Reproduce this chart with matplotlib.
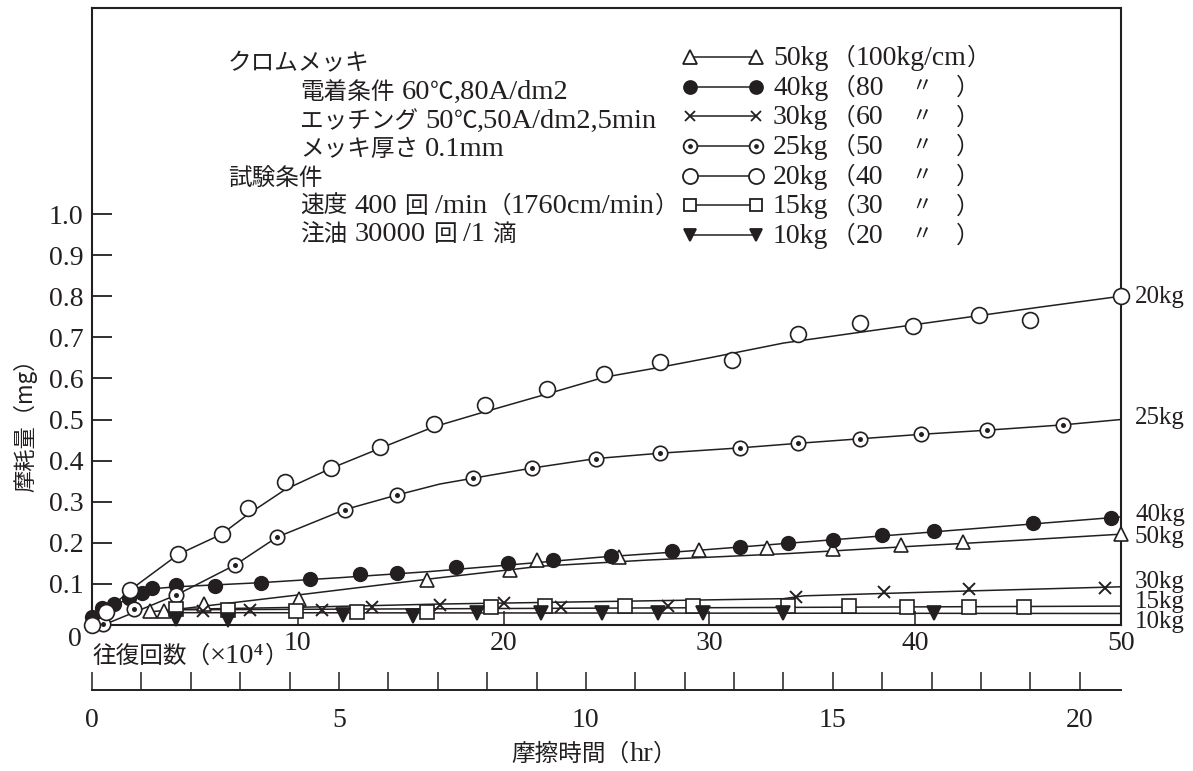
import matplotlib
matplotlib.use("Agg")
import matplotlib.pyplot as plt
from matplotlib.lines import Line2D
from matplotlib.ticker import MultipleLocator

LATIN = ['Liberation Serif', 'Noto Sans CJK JP', 'DejaVu Serif']
CJK = ['Noto Sans CJK JP', 'Liberation Serif', 'DejaVu Serif']
plt.rcParams['font.family'] = LATIN

INK = '#231f20'
W, H = 1193, 771

# ---- measured wear (mg) vs. reciprocating cycles (x10^4) ----
c50 = [2.8, 3.5, 5.44, 10.06, 16.3, 20.3, 21.6, 25.6, 29.5, 32.8, 36.0, 39.3, 42.3, 50.0]
w50 = [0.034, 0.034, 0.051, 0.063, 0.110, 0.134, 0.158, 0.165, 0.183, 0.187, 0.185, 0.195, 0.202, 0.221]

c40 = [0.0, 0.5, 1.07, 1.8, 2.43, 2.9, 4.1, 6.0, 8.2, 10.6, 13.0, 14.8, 17.7, 20.2, 22.4,
       25.2, 28.2, 31.5, 33.8, 36.0, 38.4, 40.9, 45.7, 49.5]
w40 = [0.020, 0.041, 0.052, 0.065, 0.078, 0.090, 0.097, 0.095, 0.103, 0.111, 0.123, 0.127, 0.142, 0.150, 0.157,
       0.168, 0.180, 0.190, 0.200, 0.207, 0.219, 0.229, 0.248, 0.260]

c30 = [5.4, 7.7, 11.2, 13.6, 16.9, 20.0, 22.8, 28.0, 34.2, 38.5, 42.6, 49.2]
w30 = [0.034, 0.036, 0.036, 0.044, 0.048, 0.053, 0.045, 0.046, 0.068, 0.081, 0.087, 0.090]

c25 = [0.55, 2.04, 4.1, 6.95, 9.0, 12.3, 14.8, 18.5, 21.4, 24.5, 27.6, 31.5, 34.3, 37.3, 40.3, 43.5, 47.2]
w25 = [0.002, 0.038, 0.073, 0.146, 0.214, 0.281, 0.316, 0.357, 0.382, 0.405, 0.418, 0.431, 0.442, 0.453,
       0.464, 0.474, 0.487]

c20 = [0.0, 0.68, 1.85, 4.2, 6.3, 7.6, 9.4, 11.6, 14.0, 16.6, 19.1, 22.1, 24.9, 27.6, 31.1, 34.3, 37.3,
       39.9, 43.1, 45.6, 50.0]
w20 = [0.000, 0.032, 0.085, 0.173, 0.221, 0.284, 0.348, 0.382, 0.433, 0.489, 0.535, 0.574, 0.610, 0.641,
       0.645, 0.708, 0.735, 0.727, 0.754, 0.742, 0.800]

c15 = [4.1, 6.6, 9.9, 12.9, 16.3, 19.4, 22.0, 25.9, 29.2, 33.8, 36.8, 39.6, 42.6, 45.3]
w15 = [0.039, 0.036, 0.034, 0.032, 0.032, 0.044, 0.046, 0.046, 0.046, 0.046, 0.046, 0.044, 0.044, 0.044]

c10 = [4.1, 6.6, 12.2, 15.6, 18.7, 21.8, 24.8, 27.5, 29.7, 33.6, 40.9]
w10 = [0.015, 0.012, 0.024, 0.022, 0.029, 0.029, 0.029, 0.028, 0.029, 0.029, 0.029]

# ---- hand-drawn trend curves ----
f50_c = [2.8, 4.1, 10.0, 16.9, 21.8, 27.0, 33.9, 40.0, 45.0, 50.0]
f50_w = [0.032, 0.038, 0.073, 0.115, 0.143, 0.158, 0.174, 0.192, 0.206, 0.221]

f40_c = [0.0, 1.0, 2.0, 2.9, 4.1, 8.2, 12.0, 16.4, 20.0, 24.7, 29.0, 33.6, 40.0, 45.0, 50.0]
f40_w = [0.020, 0.045, 0.070, 0.088, 0.093, 0.103, 0.115, 0.130, 0.145, 0.165, 0.180, 0.198, 0.223, 0.243, 0.263]

f30_c = [4.1, 10.0, 16.9, 24.7, 33.6, 34.6, 42.0, 50.0]
f30_w = [0.038, 0.043, 0.051, 0.057, 0.064, 0.071, 0.082, 0.093]

f25_c = [0.55, 4.1, 6.95, 9.0, 12.3, 14.8, 16.9, 18.5, 21.4, 24.5, 27.6, 31.5, 34.3, 37.3, 40.3, 43.5, 47.2, 50.0]
f25_w = [0.000, 0.073, 0.146, 0.214, 0.281, 0.316, 0.343, 0.357, 0.382, 0.405, 0.418, 0.431, 0.442, 0.453,
         0.464, 0.474, 0.487, 0.500]

f20_c = [0.0, 1.85, 4.2, 6.3, 7.6, 9.4, 11.6, 14.0, 16.6, 19.1, 22.1, 24.9, 27.6, 30.0, 33.6, 37.0, 40.0,
         43.0, 46.0, 50.0]
f20_w = [0.000, 0.085, 0.172, 0.221, 0.270, 0.330, 0.381, 0.430, 0.482, 0.519, 0.562, 0.603, 0.627, 0.650,
         0.686, 0.710, 0.731, 0.752, 0.773, 0.800]

f15_c = [4.1, 50.0]
f15_w = [0.037, 0.046]

f10_c = [4.1, 50.0]
f10_w = [0.030, 0.028]

loads = ['50kg', '40kg', '30kg', '25kg', '20kg', '15kg', '10kg']
pressures = ['100kg/cm', '80', '60', '50', '40', '30', '20']
end_labels = ['20kg', '25kg', '40kg', '50kg', '30kg', '15kg', '10kg']
end_label_y = [297, 418, 515, 537, 582, 602, 622]

y_ticks = [0.1, 0.2, 0.3, 0.4, 0.5, 0.6, 0.7, 0.8, 0.9, 1.0]
x_ticks = [10, 20, 30, 40, 50]
hr_ticks = [0, 5, 10, 15, 20]
CYCLES_PER_HOUR = 2.4   # 400 cycles/min -> 2.4 x10^4 cycles per hour

notes = [("クロムメッキ", 228, 62),
         ("電着条件 60℃,80A/dm2", 300, 91),
         ("エッチング 50℃,50A/dm2,5min", 300, 120),
         ("メッキ厚さ 0.1mm", 300, 148),
         ("試験条件", 228, 177),
         ("速度 400 回 /min（1760cm/min）", 300, 205),
         ("注油 30000 回 /1 滴", 300, 233)]


def fx(x):
    return x / W


def fy(y):
    return 1 - y / H


fig = plt.figure(figsize=(W / 100, H / 100), dpi=100)
renderer = fig.canvas.get_renderer()

LAT_SIZE = 20.5
CJK_SIZE = 17


def _runs(s):
    """Split a string into [kind, text] runs: 'sp', 'cjk' or 'lat'."""
    runs = []
    for ch in s:
        if ch == ' ':
            kind = 'sp'
        elif ord(ch) >= 0x2100:
            kind = 'cjk'
        else:
            kind = 'lat'
        if runs and runs[-1][0] == kind:
            runs[-1][1] += ch
        else:
            runs.append([kind, ch])
    return runs


def _advance(s, size, family, pad):
    t1 = fig.text(0.5, 0.5, pad + s + pad, fontsize=size, family=family)
    t2 = fig.text(0.5, 0.5, pad + pad, fontsize=size, family=family)
    w = t1.get_window_extent(renderer).width - t2.get_window_extent(renderer).width
    t1.remove()
    t2.remove()
    return w


def _layout(s, lat, cjk):
    """Pen offsets of each run of a mixed Latin/Japanese string."""
    x = 0.0
    items = []
    for kind, piece in _runs(s):
        if kind == 'sp':
            x += len(piece) * lat * 0.25 * 100 / 72
            continue
        size, fam, pad = (cjk, CJK, '口') if kind == 'cjk' else (lat, LATIN, 'I')
        items.append((x, piece, size, fam))
        x += _advance(piece, size, fam, pad)
    return items, x


def mixed_text(x, y, s, lat=LAT_SIZE, cjk=CJK_SIZE, ha='left'):
    """Latin runs in a serif face, Japanese runs in a CJK face, on one baseline."""
    items, total = _layout(s, lat, cjk)
    if ha == 'center':
        x -= total / 2
    base = y + 8
    for dx, piece, size, fam in items:
        fig.text(fx(x + dx), fy(base), piece, fontsize=size, family=fam,
                 ha='left', va='baseline', color=INK)


ax = fig.add_axes([fx(92), fy(625), (1121 - 92) / W, (625 - 8) / H])
ax.set_xlim(0, 50)
ax.set_ylim(0, (625 - 8) / 411)

for s in ax.spines.values():
    s.set_color(INK)
    s.set_linewidth(1.5)

ax.set_yticks(y_ticks)
ax.set_yticklabels([f"{v:.1f}" for v in y_ticks])
ax.set_xticks(x_ticks)
ax.set_xticklabels([str(v) for v in x_ticks])
ax.tick_params(axis='y', direction='in', length=14.5, width=1.3, color=INK,
               labelsize=20, pad=6, labelcolor=INK)
ax.tick_params(axis='x', direction='in', length=10, width=1.1, color=INK,
               labelsize=20, pad=4, labelcolor=INK)

styles = {
    '50kg': dict(marker='^', mfc='white', ms=10.4),
    '40kg': dict(marker='o', mfc=INK, ms=9.8),
    '30kg': dict(marker='x', mfc=INK, ms=8.0),
    '25kg': dict(marker='o', mfc='white', ms=10.4),
    '20kg': dict(marker='o', mfc='white', ms=11.4),
    '15kg': dict(marker='s', mfc='white', ms=9.4),
    '10kg': dict(marker='v', mfc=INK, ms=9.8),
}

curves = [(f50_c, f50_w), (f40_c, f40_w), (f30_c, f30_w), (f25_c, f25_w),
          (f20_c, f20_w), (f15_c, f15_w), (f10_c, f10_w)]
points = [(c50, w50), (c40, w40), (c30, w30), (c25, w25), (c20, w20), (c15, w15), (c10, w10)]

for (fc, fw) in curves:
    ax.plot(fc, fw, color=INK, lw=1.1, zorder=2, clip_on=False, solid_capstyle='butt')

for name, (pc, pw) in zip(loads, points):
    st = styles[name]
    ax.plot(pc, pw, ls='none', marker=st['marker'], ms=st['ms'], mfc=st['mfc'],
            mec=INK, mew=1.4 if name == '30kg' else 1.2, zorder=3, clip_on=False)
    if name == '25kg':
        ax.plot(pc, pw, ls='none', marker='o', ms=3.6, mfc=INK, mec=INK, mew=0,
                zorder=4, clip_on=False)

# shared origin label
fig.text(fx(75), fy(640), "0", fontsize=20, ha='center', va='center', color=INK)

# secondary scale: friction time in hours
sec = ax.secondary_xaxis(-(690 - 625) / 617,
                         functions=(lambda c: c / CYCLES_PER_HOUR, lambda h: h * CYCLES_PER_HOUR))
sec.set_xticks(hr_ticks)
sec.set_xticklabels([str(v) for v in hr_ticks])
sec.xaxis.set_minor_locator(MultipleLocator(1))
sec.tick_params(which='both', direction='in', length=13, width=1.1, color=INK,
                labelsize=20, pad=13, labelcolor=INK)
for s in sec.spines.values():
    s.set_color(INK)
    s.set_linewidth(1.4)

# axis titles
mixed_text(92, 655, "往復回数（×10⁴）")
mixed_text(594, 753, "摩擦時間（hr）", ha='center')
fig.text(fx(25), fy(420), "摩耗量（mg）", fontsize=16, family=CJK, ha='center', va='center',
         rotation=90, color=INK)

# conditions block
for txt, x, y in notes:
    mixed_text(x, y, txt)

# legend, one row per load
row_y = [57, 86.7, 116.3, 146, 175.7, 205.4, 235]
for name, pres, y in zip(loads, pressures, row_y):
    st = styles[name]
    fig.add_artist(Line2D([fx(690), fx(756)], [fy(y), fy(y)], transform=fig.transFigure,
                          color=INK, lw=1.1, marker=st['marker'], ms=st['ms'] * 0.95,
                          mfc=st['mfc'], mec=INK, mew=1.3))
    if name == '25kg':
        fig.add_artist(Line2D([fx(690), fx(756)], [fy(y), fy(y)], transform=fig.transFigure,
                              ls='none', marker='o', ms=3.4, mfc=INK, mec=INK, mew=0))
    mixed_text(773, y, name, lat=20)
    if name == '50kg':
        mixed_text(832, y, "（" + pres + "）", lat=20)
    else:
        mixed_text(832, y, "（" + pres, lat=20)
        fig.text(fx(922), fy(y), "〃", fontsize=15, family=CJK, ha='center', va='center', color=INK)
        mixed_text(956, y, "）")

# curve end labels
for lab, y in zip(end_labels, end_label_y):
    fig.text(fx(1135), fy(y), lab, fontsize=18, ha='left', va='center', color=INK)

fig.savefig("out.png", dpi=100)
